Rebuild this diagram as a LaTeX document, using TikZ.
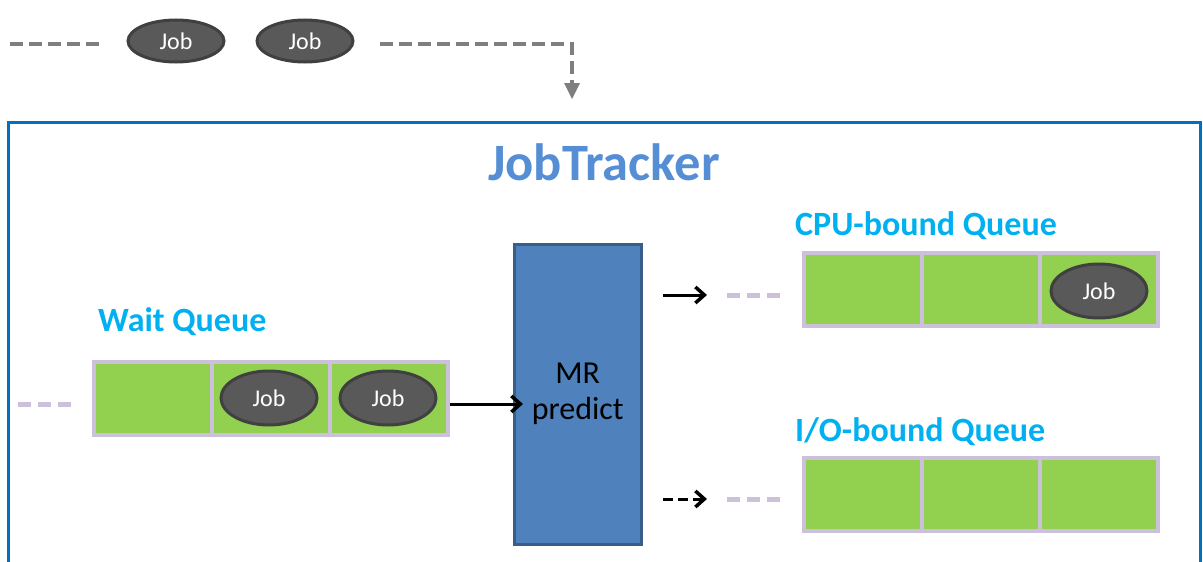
\documentclass[tikz,border=0pt]{standalone}
\usepackage{fontspec}
\setmainfont{Carlito}
\usetikzlibrary{shapes.geometric,arrows.meta}

\definecolor{frameblue}{HTML}{0070C0}
\definecolor{titleblue}{HTML}{558ED5}
\definecolor{labelcyan}{HTML}{00B0F0}
\definecolor{cellgreen}{HTML}{92D050}
\definecolor{cellborder}{HTML}{CCC0DA}
\definecolor{jobfill}{HTML}{595959}
\definecolor{jobborder}{HTML}{404040}
\definecolor{predfill}{HTML}{4F81BD}
\definecolor{predborder}{HTML}{385D8A}
\definecolor{flowgray}{HTML}{7F7F7F}

\tikzset{
  cell/.style={draw=cellborder, fill=cellgreen, line width=4pt,
    minimum width=118pt, minimum height=73pt, inner sep=0pt},
  job/.style={ellipse, draw=jobborder, fill=jobfill, line width=3pt,
    minimum width=96pt, minimum height=54pt, inner sep=0pt,
    text=white, font=\fontsize{24}{27}\selectfont},
  topjob/.style={job, minimum height=42pt},
  qlabel/.style={text=labelcyan, font=\fontsize{34}{37}\selectfont\bfseries,
    anchor=base west, inner sep=0pt},
  lavdash/.style={draw=cellborder, line width=5pt, dash pattern=on 13pt off 7pt},
  graydash/.style={draw=flowgray, line width=4pt, dash pattern=on 13pt off 6pt},
  flowarrow/.style={draw=black, line width=3pt, -{Straight Barb[length=9pt,width=16pt,line width=3.5pt]}}
}

\begin{document}
\begin{tikzpicture}[x=1pt,y=-1pt]
  \useasboundingbox (0,0) rectangle (1203,562);

  % JobTracker frame (open at the bottom)
  \draw[frameblue, line width=3pt] (8,562) -- (8,122) -- (1200,122) -- (1200,562);
  \node[text=titleblue, font=\fontsize{52.5}{56}\selectfont\bfseries, inner sep=0pt]
    (title) at (604,162) {JobTracker};

  % incoming jobs
  \coordinate (inStart) at (10,44);
  \coordinate (inEnd) at (105,44);
  \node[topjob] (j1) at (176,41) {Job};
  \node[topjob] (j2) at (305,41) {Job};
  \coordinate (outStart) at (380,44);
  \coordinate (bend) at (572,44);
  \coordinate (drop) at (572,99);
  \draw[graydash] (outStart) -- (bend) -- ([yshift=14pt]drop);
  \draw[graydash] (inStart) -- (inEnd);
  \fill[flowgray] ([yshift=16pt]drop) ++(-8,0) -- ++(16,0) -- (drop) -- cycle;

  % wait queue
  \node[qlabel] (wlabel) at (98,331) {Wait Queue};
  \node[cell] (w1) at (153,398) {};
  \node[cell] (w2) at (271,398) {};
  \node[cell] (w3) at (389,398) {};
  \node[job] (wj1) at (269,398) {Job};
  \node[job] (wj2) at (388,398) {Job};
  \coordinate (wdA) at (18,404);
  \coordinate (wdB) at (72,404);
  \draw[lavdash] (wdA) -- (wdB);

  % predictor
  \node[draw=predborder, fill=predfill, line width=2.5pt, minimum width=127pt,
    minimum height=300pt, inner sep=0pt, anchor=north west,
    font=\fontsize{32}{36}\selectfont, align=center] (mr) at (513,243) {MR\\predict};
  \draw[flowarrow] (w3.east |- 0,404) -- ([xshift=10pt]mr.west |- 0,404);

  % CPU-bound queue
  \node[qlabel] (clabel) at (795,235) {CPU-bound Queue};
  \node[cell] (c1) at (863,289.5) {};
  \node[cell] (c2) at (981,289.5) {};
  \node[cell] (c3) at (1099,289.5) {};
  \node[job] (cj) at (1099,291) {Job};
  \coordinate (caA) at (663,295);
  \coordinate (caB) at (707,295);
  \draw[flowarrow] (caA) -- (caB);
  \coordinate (cdA) at (727,295);
  \coordinate (cdB) at (786,295);
  \draw[lavdash] (cdA) -- (cdB);

  % I/O-bound queue
  \node[qlabel] (ilabel) at (795,441) {I/O-bound Queue};
  \node[cell] (i1) at (863,494.5) {};
  \node[cell] (i2) at (981,494.5) {};
  \node[cell] (i3) at (1099,494.5) {};
  \coordinate (iaA) at (663,499);
  \coordinate (iaB) at (707,499);
  \draw[flowarrow, dash pattern=on 10pt off 5pt] (iaA) -- (iaB);
  \coordinate (idA) at (727,499);
  \coordinate (idB) at (786,499);
  \draw[lavdash] (idA) -- (idB);
\end{tikzpicture}
\end{document}
